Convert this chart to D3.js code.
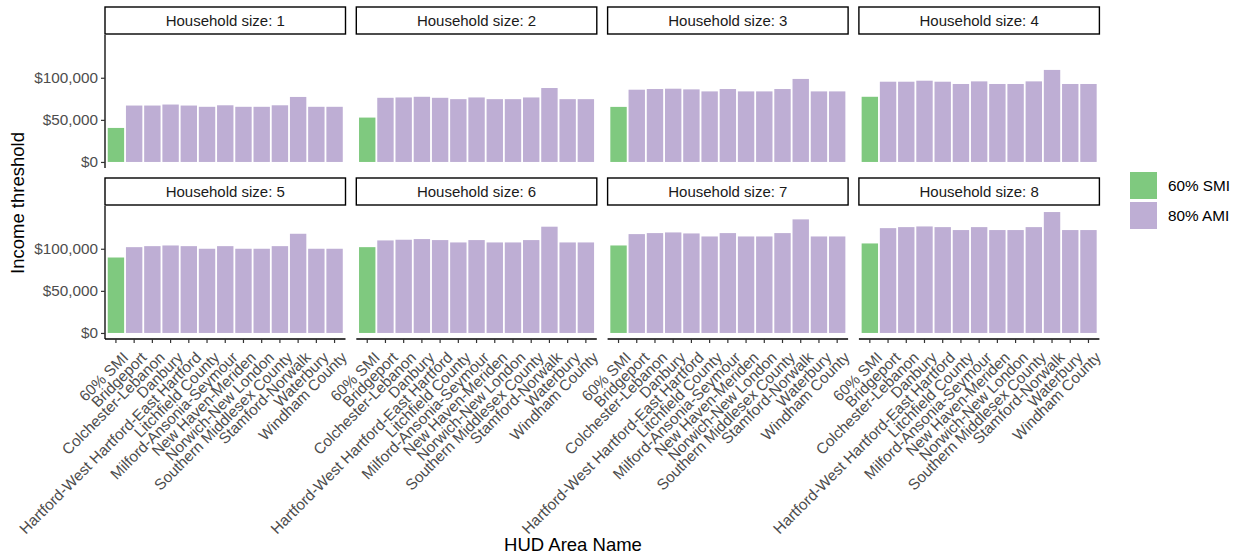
<!DOCTYPE html>
<html>
<head>
<meta charset="utf-8">
<script src="https://cdn.jsdelivr.net/npm/d3@7"></script>
<style>
  html, body { margin: 0; padding: 0; background: #fff; }
  svg { display: block; font-family: "Liberation Sans", Arial, sans-serif; }
</style>
</head>
<body>
<svg id="chart" width="1236" height="555"></svg>
<script>
// ---- data ----
const areas = ["60% SMI", "Bridgeport", "Colchester-Lebanon", "Danbury",
  "Hartford-West Hartford-East Hartford", "Litchfield County", "Milford-Ansonia-Seymour",
  "New Haven-Meriden", "Norwich-New London", "Southern Middlesex County",
  "Stamford-Norwalk", "Waterbury", "Windham County"];
const householdSizes = [1, 2, 3, 4, 5, 6, 7, 8];
const hh1 = [40400, 67000, 67000, 68200, 67000, 65500, 67300, 65500, 65500, 67300, 77200, 65500, 65500];
const hh2 = [52700, 76200, 76600, 77400, 76200, 74600, 76600, 74600, 74600, 76600, 87800, 74600, 74600];
const hh3 = [65400, 85800, 86600, 87000, 86200, 83800, 86600, 83800, 83800, 86600, 98600, 83800, 83800];
const hh4 = [77400, 95300, 95300, 96500, 95300, 92600, 95700, 92600, 92600, 95700, 109300, 92600, 92600];
const hh5 = [89600, 101900, 103100, 103900, 103100, 100000, 103100, 100000, 100000, 103100, 117800, 100000, 100000];
const hh6 = [101900, 109900, 110700, 111500, 110300, 107500, 110300, 107500, 107500, 110300, 126200, 107500, 107500];
const hh7 = [103900, 117400, 118600, 119400, 118200, 114600, 118600, 114600, 114600, 118600, 134900, 114600, 114600];
const hh8 = [106300, 124500, 125700, 126500, 125700, 122200, 125700, 122200, 122200, 125700, 143600, 122200, 122200];
const seriesNames = ["60% SMI", "80% AMI"];
const yTicks = [0, 50000, 100000];

const allValues = [hh1, hh2, hh3, hh4, hh5, hh6, hh7, hh8];

// ---- layout ----
const svg = d3.select("#chart");
const colors = d3.scaleOrdinal().domain(seriesNames).range(["#7FC97F", "#BEAED4"]);
const panelW = 240.5, colStep = 251.3, left0 = 105;
const stripH = 27;
const rowTops = [7, 178];      // strip top
const panelH = 133;
const fontSize = 15.3;

const maxV = d3.max(allValues.flat());
const y0 = -0.05 * maxV, y1 = maxV * 1.05;

const fmt = d => "$" + d3.format(",")(d);

householdSizes.forEach((size, i) => {
  const col = i % 4, row = Math.floor(i / 4);
  const px = left0 + col * colStep;
  const sTop = rowTops[row];
  const pTop = sTop + stripH + 1;
  const pBot = pTop + panelH;

  const x = d3.scaleBand().domain(areas).range([px, px + panelW])
    .paddingInner(0.1).paddingOuter(0.15);
  const y = d3.scaleLinear().domain([y0, y1]).range([pBot, pTop]);

  const g = svg.append("g");

  // strip
  g.append("rect").attr("x", px).attr("y", sTop).attr("width", panelW).attr("height", stripH)
    .attr("fill", "#fff").attr("stroke", "#000").attr("stroke-width", 1.4);
  g.append("text").attr("x", px + panelW / 2).attr("y", sTop + stripH / 2)
    .attr("dy", "0.36em").attr("text-anchor", "middle")
    .attr("font-size", 15).attr("fill", "#1A1A1A")
    .text("Household size: " + size);

  // bars
  const vals = allValues[i];
  g.selectAll("rect.bar").data(areas.map((a, k) => ({ a, v: vals[k], s: k === 0 ? seriesNames[0] : seriesNames[1] })))
    .join("rect").attr("class", "bar")
    .attr("x", d => x(d.a)).attr("width", x.bandwidth())
    .attr("y", d => y(d.v)).attr("height", d => y(0) - y(d.v))
    .attr("fill", d => colors(d.s));

  // y axis (first column)
  if (col === 0) {
    const ax = g.append("g").attr("transform", `translate(${px},0)`)
      .call(d3.axisLeft(y).tickValues(yTicks).tickFormat(fmt).tickSize(4).tickPadding(3));
    ax.select(".domain").attr("stroke", "#000").attr("stroke-width", 1.3)
      .attr("d", `M0,${pTop}V${pBot}`);
    ax.selectAll(".tick line").attr("stroke", "#333").attr("stroke-width", 1.2);
    ax.selectAll(".tick text").attr("font-size", fontSize).attr("fill", "#4D4D4D")
      .attr("font-family", "Liberation Sans, Arial, sans-serif");
  }
  // x axis (bottom row)
  if (row === 1) {
    const ax = g.append("g").attr("transform", `translate(0,${pBot})`)
      .call(d3.axisBottom(x).tickSize(4).tickSizeOuter(0));
    ax.select(".domain").attr("stroke", "#000").attr("stroke-width", 1.3)
      .attr("d", `M${px},0H${px + panelW}`);
    ax.selectAll(".tick line").attr("stroke", "#333").attr("stroke-width", 1.2);
    ax.selectAll(".tick text")
      .attr("font-size", fontSize).attr("fill", "#4D4D4D")
      .attr("font-family", "Liberation Sans, Arial, sans-serif")
      .attr("text-anchor", "end")
      .attr("y", 0).attr("x", 0)
      .attr("dy", "1.24em")
      .attr("transform", "translate(0,6) rotate(-45)");
  }
});

// axis titles
svg.append("text").attr("transform", "translate(24,203) rotate(-90)")
  .attr("text-anchor", "middle").attr("font-size", 18.5).attr("fill", "#000")
  .text("Income threshold");
svg.append("text").attr("x", 573).attr("y", 551)
  .attr("text-anchor", "middle").attr("font-size", 18.5).attr("fill", "#000")
  .text("HUD Area Name");

// legend
const leg = svg.append("g").attr("transform", "translate(1130,172)");
seriesNames.forEach((s, k) => {
  leg.append("rect").attr("x", 0).attr("y", k * 30).attr("width", 27).attr("height", 27)
    .attr("fill", colors(s));
  leg.append("text").attr("x", 38).attr("y", k * 30 + 13.5).attr("dy", "0.36em")
    .attr("font-size", fontSize).attr("fill", "#000").text(s);
});
</script>
</body>
</html>
